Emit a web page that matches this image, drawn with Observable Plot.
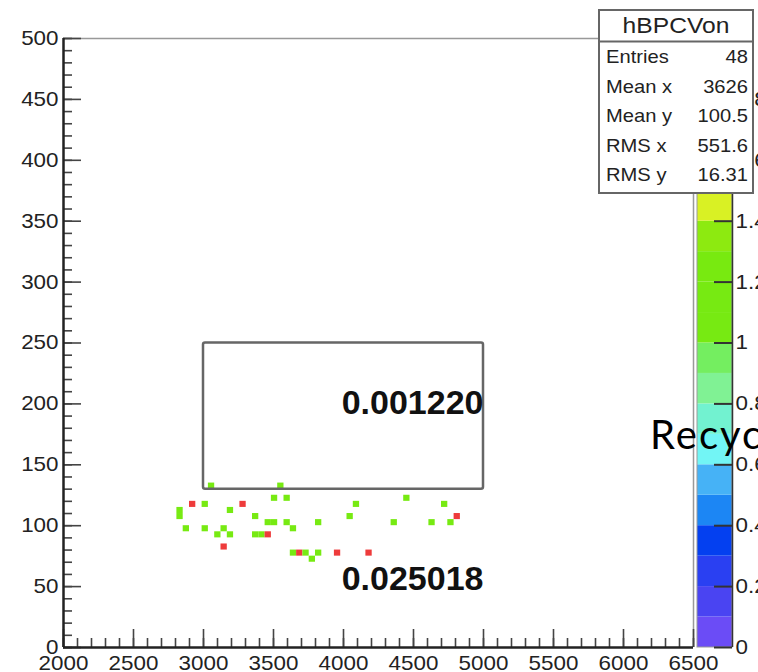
<!DOCTYPE html>
<html>
<head>
<meta charset="utf-8">
<script src="https://cdn.jsdelivr.net/npm/d3@7"></script>
<script src="https://cdn.jsdelivr.net/npm/@observablehq/plot@0.6"></script>
<style>
  body { margin: 0; background: #fff; }
  #chart { width: 758px; height: 672px; overflow: hidden; }
</style>
</head>
<body>
<div id="chart"></div>
<script>
// ---- data ----
const xDomain = [2000, 6500];
const yDomain = [0, 500];
const zDomain = [0, 2];
const xBinWidth = 45;
const yBinWidth = 5;

// lower bin edges of filled cells and their contents
const cellX = [3035, 3530,
  3485, 3575, 4430,
  2900, 2990, 3260, 4070, 4700,
  2810, 3170,
  2810, 3350, 4025, 4790,
  3440, 3485, 3575, 3800, 4340, 4610, 4745,
  2855, 2990, 3125, 3620,
  3080, 3170, 3350, 3395, 3440,
  3125,
  3620, 3665, 3710, 3800, 3935, 4160,
  3755];
const cellY = [130, 130,
  120, 120, 120,
  115, 115, 115, 115, 115,
  110, 110,
  105, 105, 105, 105,
  100, 100, 100, 100, 100, 100, 100,
  95, 95, 95, 95,
  90, 90, 90, 90, 90,
  80,
  75, 75, 75, 75, 75, 75,
  70];
const cellV = [1, 1,
  1, 1, 1,
  2, 1, 2, 1, 1,
  1, 1,
  1, 1, 1, 2,
  1, 1, 1, 1, 1, 1, 1,
  1, 1, 1, 1,
  1, 1, 1, 1, 2,
  2,
  1, 2, 1, 1, 2, 2,
  1];

const xTickLabels = [2000, 2500, 3000, 3500, 4000, 4500, 5000, 5500, 6000, 6500];
const yTickLabels = [0, 50, 100, 150, 200, 250, 300, 350, 400, 450, 500];
const zTickValues = [0, 0.2, 0.4, 0.6, 0.8, 1, 1.2, 1.4, 1.6, 1.8, 2];
const zTickLabels = ["0", "0.2", "0.4", "0.6", "0.8", "1", "1.2", "1.4", "1.6", "1.8", "2"];
const zLevels = [0, 0.1, 0.2, 0.3, 0.4, 0.5, 0.6, 0.7, 0.8, 0.9, 1.0, 1.1, 1.2, 1.3, 1.4, 1.5, 1.6, 1.7, 1.8, 1.9];
const palette = ["#6b4cf6", "#4a44f2", "#2a40f2", "#0440f0", "#1c86f4", "#46b2f6", "#72f5f5", "#72f2d0",
  "#80f294", "#74ee60", "#77ea12", "#77ea12", "#78ea10", "#8dea10", "#d9f124", "#f2f21e",
  "#f8d21c", "#f8a41e", "#f26c22", "#ee3b3b"];

const boxX = [3000, 5000];
const boxY = [130, 250];
const annotText = ["0.001220", "0.025018"];
const annotX = [5000, 5000];
const annotY = [201, 56];

const statsTitle = "hBPCVon";
const statsLabels = ["Entries", "Mean x", "Mean y", "RMS x", "RMS y"];
const statsValues = ["48", "3626", "100.5", "551.6", "16.31"];
const overlayText = "Recycling";

// ---- layout ----
const W = 758, H = 672, mL = 63, mR = 65, mT = 38, mB = 25;
const frameW = W - mL - mR, frameH = H - mT - mB;
const zToY = z => z * (yDomain[1] - yDomain[0]) / (zDomain[1] - zDomain[0]);
const xMinor = d3.range(xDomain[0], xDomain[1] + 1, 100);
const yMinor = d3.range(yDomain[0], yDomain[1] + 1, 10);
const thresholds = zLevels.slice(1);
const cells = cellX.map((x, i) => ({x, y: cellY[i], v: cellV[i]}));
const tickColor = "#444";

const plot = Plot.plot({
  width: W, height: H,
  marginLeft: mL, marginRight: mR, marginTop: mT, marginBottom: mB,
  style: {fontFamily: "'Liberation Sans', Arial, sans-serif", fontSize: "20px", color: "#222", background: "#fff"},
  x: {domain: xDomain, axis: null},
  y: {domain: yDomain, axis: null},
  color: {type: "threshold", domain: thresholds, range: palette},
  marks: [
    // histogram cells
    Plot.rect(cells, {x1: "x", x2: d => d.x + xBinWidth, y1: "y", y2: d => d.y + yBinWidth, fill: "v"}),
    // frame
    Plot.ruleY([yDomain[1]], {stroke: "#999", strokeWidth: 1.5}),
    Plot.ruleX([xDomain[1]], {stroke: "#999", strokeWidth: 1.5}),
    // ticks
    Plot.tickX(xMinor, {x: d => d, insetTop: frameH - 9, stroke: tickColor, strokeWidth: 1.6}),
    Plot.tickX(xTickLabels, {x: d => d, insetTop: frameH - 18, stroke: tickColor, strokeWidth: 1.6}),
    Plot.tickY(yMinor, {y: d => d, insetRight: frameW - 9, stroke: tickColor, strokeWidth: 1.6}),
    Plot.tickY(yTickLabels, {y: d => d, insetRight: frameW - 18, stroke: tickColor, strokeWidth: 1.6}),
    Plot.ruleX([xDomain[0]], {stroke: "#222", strokeWidth: 2.5}),
    Plot.ruleY([yDomain[0]], {stroke: "#222", strokeWidth: 2.5}),
    // tick labels
    Plot.text(xTickLabels, {x: d => d, text: d => String(d), frameAnchor: "bottom", dy: 8, lineAnchor: "top", fill: "#222"}),
    Plot.text(yTickLabels, {y: d => d, text: d => String(d), frameAnchor: "left", dx: -5, textAnchor: "end", fill: "#222"}),
    // palette (colour bar)
    Plot.rect(zLevels, {x1: xDomain[1], x2: xDomain[1], insetLeft: 4, insetRight: -39,
      y1: d => zToY(d), y2: d => zToY(d + 0.1), fill: d => d + 0.05}),
    Plot.rect([0], {x1: xDomain[1], x2: xDomain[1], insetLeft: 4, insetRight: -39,
      y1: zToY(zDomain[0]), y2: zToY(zDomain[1]), fill: "none", stroke: "#999", strokeWidth: 1}),
    Plot.ruleX([xDomain[1]], {dx: 39, stroke: "#333", strokeWidth: 1.5}),
    Plot.ruleY(zTickValues, {y: d => zToY(d), x1: xDomain[1], x2: xDomain[1], insetLeft: 21, insetRight: -39, stroke: "#333", strokeWidth: 2}),
    Plot.text(zTickValues, {x: xDomain[1], y: d => zToY(d), text: (d, i) => zTickLabels[i], dx: 42, textAnchor: "start", fill: "#222"}),
    // box and numbers
    Plot.rect([0], {x1: boxX[0], x2: boxX[1], y1: boxY[0], y2: boxY[1], fill: "none", stroke: "#666", strokeWidth: 2.5, rx: 2}),
    Plot.text(annotText, {x: annotX, y: annotY, text: d => d, textAnchor: "end", fontWeight: "bold", fontSize: 34, fill: "#111"})
  ]
});

// horizontal stretch of the regular text to match the reference
const sx = 1.12;
d3.select(plot).selectAll("g").filter(function() { return this.getAttribute("font-weight") !== "bold"; })
  .selectChildren("text").each(function() {
    const t = this.getAttribute("transform");
    if (t) this.setAttribute("transform", t + ` scale(${sx},1)`);
  });

// statistics box
const svg = d3.select(plot);
const sb = svg.append("g").attr("font-family", "'Liberation Sans', Arial, sans-serif").attr("fill", "#222");
const bx = 599, by = 10, bw = 154, bh = 183, sep = 41.5;
sb.append("rect").attr("x", bx).attr("y", by).attr("width", bw).attr("height", bh)
  .attr("fill", "#fff").attr("stroke", "#666").attr("stroke-width", 2);
sb.append("line").attr("x1", bx).attr("x2", bx + bw).attr("y1", sep).attr("y2", sep)
  .attr("stroke", "#666").attr("stroke-width", 2);
sb.append("text").attr("transform", `translate(${bx + bw / 2},33) scale(${sx},1)`)
  .attr("text-anchor", "middle").attr("font-size", 22).text(statsTitle);
const rowBase = [63, 93, 122, 152, 181];
statsLabels.forEach((lab, i) => {
  sb.append("text").attr("transform", `translate(${bx + 7},${rowBase[i]}) scale(${sx},1)`)
    .attr("text-anchor", "start").attr("font-size", 18).text(lab);
  sb.append("text").attr("transform", `translate(${bx + bw - 5},${rowBase[i]}) scale(${sx},1)`)
    .attr("text-anchor", "end").attr("font-size", 18).text(statsValues[i]);
});

// overlapping slide text
svg.append("text").attr("x", 650).attr("y", 449).attr("text-anchor", "start")
  .attr("font-family", "Lato, 'Open Sans', sans-serif").attr("font-size", 40).attr("letter-spacing", 2)
  .attr("fill", "#000").text(overlayText);

document.getElementById("chart").appendChild(plot);
</script>
</body>
</html>
